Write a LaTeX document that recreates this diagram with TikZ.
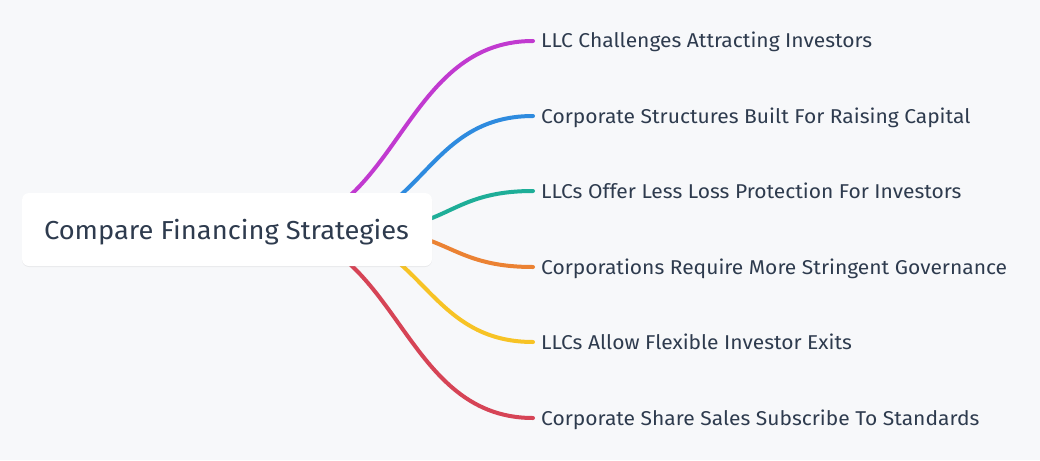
\documentclass[tikz,border=0pt]{standalone}
\usepackage{fontspec}
\setmainfont[FakeStretch=1.05]{Fira Sans}
\usetikzlibrary{shadows}
\definecolor{bg}{HTML}{F7F8FA}
\definecolor{txt}{HTML}{2E3B4E}
\definecolor{cmag}{HTML}{C13AD0}
\definecolor{cblue}{HTML}{2E8BDF}
\definecolor{cteal}{HTML}{1EAE98}
\definecolor{corange}{HTML}{EB8233}
\definecolor{cyellow}{HTML}{F7C325}
\definecolor{cred}{HTML}{D64456}
\tikzset{
  branch/.style={line width=4pt, line cap=round},
  leaf/.style={anchor=base west, inner sep=0pt, text=txt, font=\fontsize{20}{24}\selectfont},
  rootbox/.style={fill=white, rounded corners=7pt, minimum width=410pt, minimum height=73pt, inner sep=0pt,
    drop shadow={shadow xshift=0pt, shadow yshift=-1pt, opacity=0.06, fill=black}},
}
\begin{document}
\begin{tikzpicture}[x=1pt,y=-1pt]
\useasboundingbox[fill=bg] (0,0) rectangle (1040,460);
% start coordinates (hidden behind central node)
\coordinate (s1) at (265,230);
\coordinate (s2) at (313,230);
\coordinate (s3) at (365,230);
\coordinate (s4) at (365,230);
\coordinate (s5) at (313,230);
\coordinate (s6) at (265,230);
% end coordinates
\coordinate (e1) at (533,41);
\coordinate (e2) at (533,116);
\coordinate (e3) at (533,191);
\coordinate (e4) at (533,267);
\coordinate (e5) at (533,342);
\coordinate (e6) at (533,418);
\draw[branch, cmag] (s1) .. controls (399,230) and (399,41) .. (e1);
\draw[branch, cblue] (s2) .. controls (423,230) and (423,116) .. (e2);
\draw[branch, cteal] (s3) .. controls (449,230) and (449,191) .. (e3);
\draw[branch, corange] (s4) .. controls (449,230) and (449,267) .. (e4);
\draw[branch, cyellow] (s5) .. controls (423,230) and (423,342) .. (e5);
\draw[branch, cred] (s6) .. controls (399,230) and (399,418) .. (e6);
\node[rootbox] (root) at (227,229.5) {};
\node[text=txt, font=\fontsize{26}{31}\selectfont, anchor=base] (rt) at (226.5,239.5) {Compare Financing Strategies};
\node[leaf] (l1) at (541,48) {LLC Challenges Attracting Investors};
\node[leaf] (l2) at (541,123) {Corporate Structures Built For Raising Capital};
\node[leaf] (l3) at (541,198) {LLCs Offer Less Loss Protection For Investors};
\node[leaf] (l4) at (541,274) {Corporations Require More Stringent Governance};
\node[leaf] (l5) at (541,349) {LLCs Allow Flexible Investor Exits};
\node[leaf] (l6) at (541,425) {Corporate Share Sales Subscribe To Standards};
\end{tikzpicture}
\end{document}
